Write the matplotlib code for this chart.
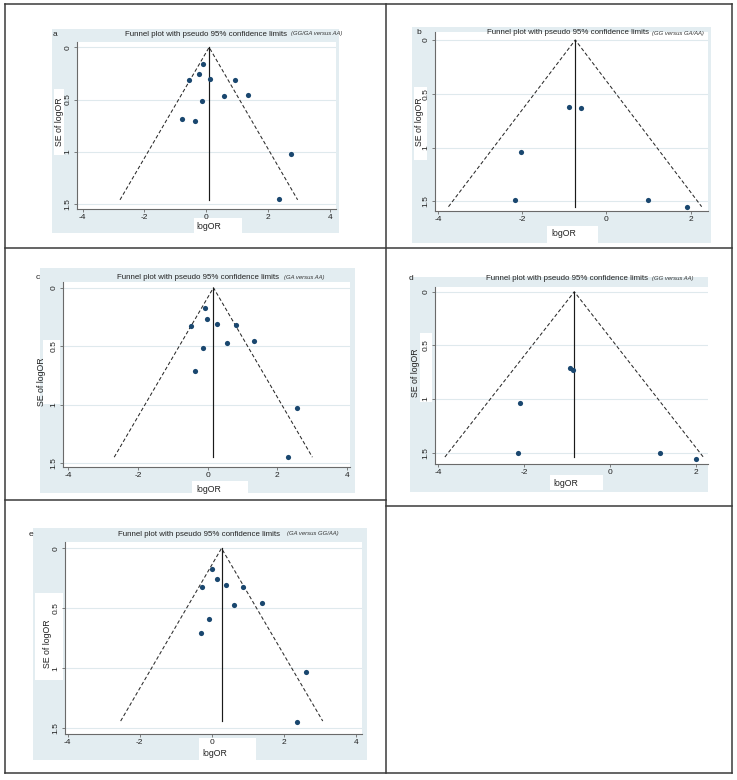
import matplotlib.pyplot as plt
from matplotlib.patches import Rectangle
from matplotlib.lines import Line2D

plt.rcParams['font.family'] = ['Liberation Sans', 'DejaVu Sans']

W, H = 737, 780

# ---- data (logOR, SE of logOR) ----
a_logor = [-0.12, -0.25, -0.55, 0.13, 0.91, 0.57, 1.34, -0.14, -0.79, -0.37, 2.72, 2.34]
a_se = [0.16, 0.26, 0.31, 0.30, 0.31, 0.47, 0.46, 0.51, 0.69, 0.71, 1.02, 1.45]

b_logor = [-0.88, -0.60, -2.03, -2.17, 0.98, 1.91]
b_se = [0.62, 0.635, 1.04, 1.49, 1.49, 1.55]

c_logor = [-0.06, -0.03, 0.27, -0.48, 0.83, 0.57, 1.33, -0.14, -0.36, 2.58, 2.32]
c_se = [0.17, 0.27, 0.31, 0.33, 0.32, 0.47, 0.46, 0.52, 0.71, 1.03, 1.45]

d_logor = [-0.93, -0.87, -2.09, -2.15, 1.16, 2.00]
d_se = [0.71, 0.73, 1.04, 1.50, 1.50, 1.56]

e_logor = [0.01, 0.15, 0.40, -0.28, 0.87, 0.63, 1.39, -0.07, -0.29, 2.61, 2.37]
e_se = [0.17, 0.26, 0.31, 0.32, 0.32, 0.47, 0.46, 0.59, 0.71, 1.03, 1.45]

panel_letters = ['a', 'b', 'c', 'd', 'e']
comparisons = ['(GG/GA versus AA)', '(GG versus GA/AA)', '(GA versus AA)',
               '(GG versus AA)', '(GA versus GG/AA)']
pooled = [0.09, -0.74, 0.17, -0.83, 0.27]
limit_lo = [-2.79, -3.75, -2.68, -3.84, -2.53]
limit_hi = [2.95, 2.26, 3.01, 2.17, 3.08]
se_max = [1.46, 1.55, 1.45, 1.54, 1.44]
x_ticks = [[-4, -2, 0, 2, 4], [-4, -2, 0, 2], [-4, -2, 0, 2, 4], [-4, -2, 0, 2], [-4, -2, 0, 2, 4]]
y_ticks = [0, 0.5, 1, 1.5]
y_ticklabels = ['0', '0.5', '1', '1.5']

points = [(a_logor, a_se), (b_logor, b_se), (c_logor, c_se), (d_logor, d_se), (e_logor, e_se)]

# ---- layout in pixels (x0, y0, x1, y1 from top-left) ----
layout = [
    dict(region=(52, 29, 339, 233), plot=(77, 42, 336, 209), xlim=(-4.18, 4.19), ylim=(1.548, -0.051),
         letter=(53, 34), title=(125, 34), sub=(291, 34),
         se_box=(54, 89, 64, 155), se_txt=(59, 122), lx_box=(194, 218, 242, 233), lx_txt=(196, 226)),
    dict(region=(412, 27, 711, 243), plot=(435, 32, 708, 211), xlim=(-4.07, 2.41), ylim=(1.59, -0.074),
         letter=(416, 33), title=(487, 33), sub=(652, 33),
         se_box=(414, 87, 427, 160), se_txt=(419, 122), lx_box=(547, 226, 598, 243), lx_txt=(551, 234)),
    dict(region=(40, 268, 355, 493), plot=(63, 282, 350, 467), xlim=(-4.15, 4.09), ylim=(1.534, -0.049),
         letter=(36, 277), title=(117, 277), sub=(284, 277),
         se_box=(43, 340, 60, 404), se_txt=(42, 382), lx_box=(192, 481, 248, 493), lx_txt=(196, 489)),
    dict(region=(410, 277, 708, 492), plot=(435, 287, 708, 464), xlim=(-4.07, 2.28), ylim=(1.605, -0.044),
         letter=(409, 278), title=(486, 278), sub=(652, 278),
         se_box=(420, 333, 432, 402), se_txt=(415, 373), lx_box=(550, 475, 603, 490), lx_txt=(553, 483)),
    dict(region=(33, 528, 367, 760), plot=(65, 542, 362, 734), xlim=(-4.075, 4.17), ylim=(1.548, -0.0525),
         letter=(29, 534), title=(118, 534), sub=(287, 534),
         se_box=(35, 593, 63, 680), se_txt=(47, 644), lx_box=(199, 738, 256, 760), lx_txt=(202, 754)),
]

fig = plt.figure(figsize=(W / 100, H / 100), dpi=100)


def fx(x):
    return x / W


def fy(y):
    return 1 - y / H


def fig_rect(box, color, z):
    x0, y0, x1, y1 = box
    fig.patches.append(Rectangle((fx(x0), fy(y1)), (x1 - x0) / W, (y1 - y0) / H,
                                 transform=fig.transFigure, facecolor=color,
                                 edgecolor='none', zorder=z))


for i, lay in enumerate(layout):
    fig_rect(lay['region'], '#e3edf1', -3)
    fig_rect(lay['se_box'], 'white', -2)
    fig_rect(lay['lx_box'], 'white', -2)
    x0, y0, x1, y1 = lay['plot']
    ax = fig.add_axes([fx(x0), fy(y1), (x1 - x0) / W, (y1 - y0) / H], zorder=0)
    ax.set_facecolor('white')
    ax.set_xlim(*lay['xlim'])
    ax.set_ylim(*lay['ylim'])
    ax.set_xticks(x_ticks[i])
    ax.set_xticklabels([str(t) for t in x_ticks[i]])
    ax.set_yticks(y_ticks)
    ax.set_yticklabels(y_ticklabels, rotation=90, va='center')
    ax.grid(axis='y', color='#dfe9ed', lw=0.8)
    ax.set_axisbelow(True)
    for s in ['top', 'right']:
        ax.spines[s].set_visible(False)
    for s in ['left', 'bottom']:
        ax.spines[s].set_color('#6a6a6a')
        ax.spines[s].set_linewidth(0.8)
    ax.tick_params(direction='out', length=2.5, width=0.6, color='#6a6a6a',
                   labelsize=6, labelcolor='#222222', pad=1.3)

    # funnel limits and pooled estimate
    ax.plot([limit_lo[i], pooled[i], limit_hi[i]], [se_max[i], 0, se_max[i]],
            color='#2a2a2a', lw=0.75, ls=(0, (3.5, 2.2)))
    ax.plot([pooled[i], pooled[i]], [0, se_max[i]], color='#1a1a1a', lw=0.85)
    xs, ys = points[i]
    ax.scatter(xs, ys, s=14, color='#1a476f', zorder=3, clip_on=False, linewidths=0)

    # title, letter, axis labels
    fig.text(fx(lay['letter'][0]), fy(lay['letter'][1]), panel_letters[i],
             fontsize=6, va='center', ha='left', color='#222222')
    fig.text(fx(lay['title'][0]), fy(lay['title'][1]),
             'Funnel plot with pseudo 95% confidence limits',
             fontsize=5.65, va='center', ha='left', color='#222222')
    fig.text(fx(lay['sub'][0]), fy(lay['sub'][1]), comparisons[i],
             fontsize=4.2, style='italic', va='center', ha='left', color='#333333')
    fig.text(fx(lay['se_txt'][0]), fy(lay['se_txt'][1]), 'SE of logOR', rotation=90,
             fontsize=6.3, va='center', ha='center', color='#222222', zorder=2)
    fig.text(fx(lay['lx_txt'][0]), fy(lay['lx_txt'][1]), 'logOR',
             fontsize=6.3, va='center', ha='left', color='#222222', zorder=2)

# table grid
grid_lines = [
    ((5, 4), (732, 4)), ((5, 248), (732, 248)), ((5, 500), (386, 500)),
    ((386, 506), (732, 506)), ((5, 773), (732, 773)),
    ((5, 4), (5, 773)), ((386, 4), (386, 773)), ((732, 4), (732, 773)),
]
for (xa, ya), (xb, yb) in grid_lines:
    fig.lines.append(Line2D([fx(xa), fx(xb)], [fy(ya), fy(yb)], transform=fig.transFigure,
                            color='#3a3a3a', lw=1.1, zorder=5))

fig.savefig('out.png', dpi=100)
